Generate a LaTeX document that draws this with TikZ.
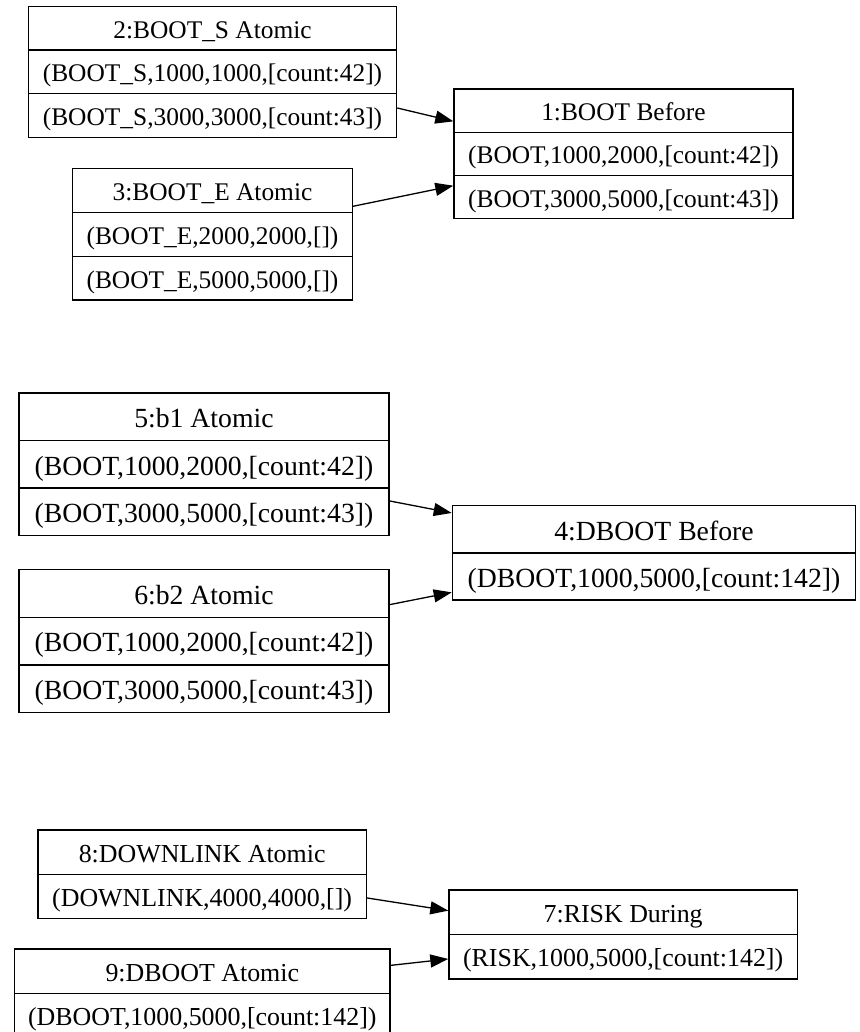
\documentclass[tikz,border=0pt]{standalone}
\usepackage{fontspec}
\setmainfont{Liberation Serif}
\usetikzlibrary{arrows.meta,calc}
\begin{document}
\begin{tikzpicture}[x=1pt,y=-1pt,
  cell/.style 2 args={draw, line width=1.3pt, inner sep=0pt, anchor=north west,
    minimum width=#1, minimum height=#2},
  ftop/.style={font=\fontsize{25.4}{30}\selectfont, text height=22.9pt, text depth=3.1pt},
  fmid/.style={font=\fontsize{27.7}{33}\selectfont, text height=25pt, text depth=3.3pt},
  fbot/.style={font=\fontsize{25.9}{31}\selectfont, text height=23.3pt, text depth=3.1pt},
  conn/.style={line width=1.3pt, -{Triangle[length=18pt,width=13pt]}}]
\fill[white] (0,0) rectangle (859,1032);
\useasboundingbox (0,0) rectangle (859,1032);
\begin{scope}
\clip (0,0) rectangle (859,1032);
% top group
\node[cell={368.3}{43.7}, ftop] (b2a) at (27.7,5.7) {2:BOOT\_S Atomic};
\node[cell={368.3}{43.7}, ftop] (b2b) at (27.7,49.4) {(BOOT\_S,1000,1000,[count:42])};
\node[cell={368.3}{43.7}, ftop] (b2c) at (27.7,93.1) {(BOOT\_S,3000,3000,[count:43])};

\node[cell={279.7}{43.9}, ftop] (b3a) at (72,167.7) {3:BOOT\_E Atomic};
\node[cell={279.7}{43.9}, ftop] (b3b) at (72,211.6) {(BOOT\_E,2000,2000,[])};
\node[cell={279.7}{43.9}, ftop] (b3c) at (72,255.5) {(BOOT\_E,5000,5000,[])};

\node[cell={339}{43.3}, ftop] (b1a) at (453.3,88.3) {1:BOOT Before};
\node[cell={339}{43.3}, ftop] (b1b) at (453.3,131.6) {(BOOT,1000,2000,[count:42])};
\node[cell={339}{43.3}, ftop] (b1c) at (453.3,174.9) {(BOOT,3000,5000,[count:43])};

\draw[conn] ($(b2c.east)+(0,-7.6)$) -- ($(b1a.west)+(0,10.75)$);
\draw[conn] ($(b3a.east)+(0,16)$) -- ($(b1c.west)+(0,-11.5)$);

% middle group
\node[cell={370}{47.5}, fmid] (b5a) at (18.3,392.3) {5:b1 Atomic};
\node[cell={370}{47.5}, fmid] (b5b) at (18.3,439.8) {(BOOT,1000,2000,[count:42])};
\node[cell={370}{47.5}, fmid] (b5c) at (18.3,487.3) {(BOOT,3000,5000,[count:43])};

\node[cell={370}{47.6}, fmid] (b6a) at (18.3,569) {6:b2 Atomic};
\node[cell={370}{47.6}, fmid] (b6b) at (18.3,616.6) {(BOOT,1000,2000,[count:42])};
\node[cell={370}{47.6}, fmid] (b6c) at (18.3,664.2) {(BOOT,3000,5000,[count:43])};

\node[cell={403.3}{47.2}, fmid] (b4a) at (451.7,505) {4:DBOOT Before};
\node[cell={403.3}{47.2}, fmid] (b4b) at (451.7,552.2) {(DBOOT,1000,5000,[count:142])};

\draw[conn] ($(b5c.east)+(0,-10.75)$) -- ($(b4a.west)+(0,-16.3)$);
\draw[conn] ($(b6a.east)+(0,11.2)$) -- ($(b4b.west)+(0,15.9)$);

% bottom group
\node[cell={328.4}{44.2}, fbot] (b8a) at (37.3,829.3) {8:DOWNLINK Atomic};
\node[cell={328.4}{44.2}, fbot] (b8b) at (37.3,873.5) {(DOWNLINK,4000,4000,[])};

\node[cell={375.3}{44.4}, fbot] (b9a) at (14,948.3) {9:DBOOT Atomic};
\node[cell={375.3}{44.4}, fbot] (b9b) at (14,992.7) {(DBOOT,1000,5000,[count:142])};

\node[cell={348.4}{44.5}, fbot] (b7a) at (448.3,889.3) {7:RISK During};
\node[cell={348.4}{44.5}, fbot] (b7b) at (448.3,933.8) {(RISK,1000,5000,[count:142])};

\draw[conn] ($(b8b.east)+(0,1.7)$) -- ($(b7a.west)+(0,-1.55)$);
\draw[conn] ($(b9a.east)+(0,-5.8)$) -- ($(b7b.west)+(0,2.25)$);
\end{scope}
\end{tikzpicture}
\end{document}
